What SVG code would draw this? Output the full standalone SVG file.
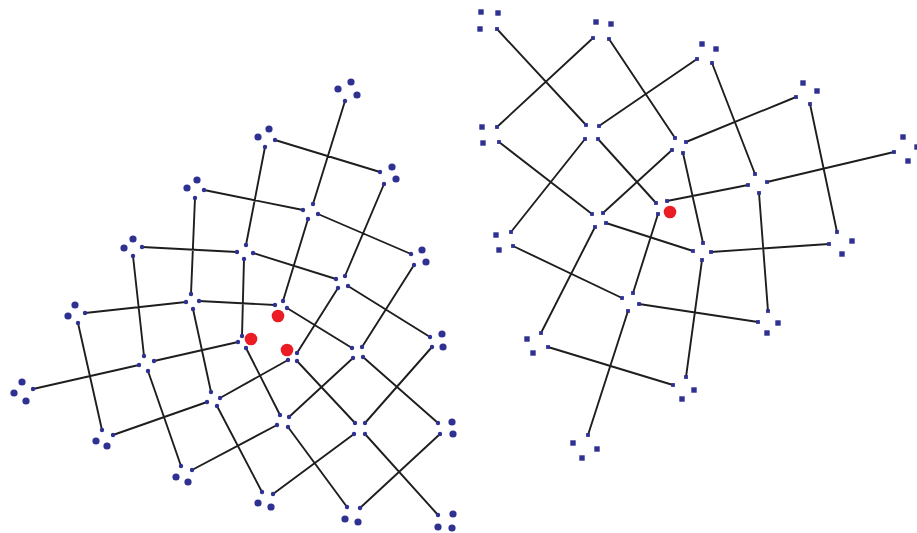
<svg xmlns="http://www.w3.org/2000/svg" width="917" height="533" viewBox="0 0 917 533">
<style>
.e{stroke:#1e1e1e;stroke-width:1.9;fill:none;stroke-linecap:round}
.s{fill:#2e3192}
.b{fill:#2e3192}
.r{fill:#ec1c24}
</style>
<defs>
<circle id="cs" r="2.2" class="s"/>
<circle id="cb" r="3.6" class="b"/>
<circle id="cr" r="6.3" class="r"/>
<rect id="qs" x="-1.9" y="-1.9" width="3.8" height="3.8" class="s"/>
<rect id="qb" x="-2.7" y="-2.7" width="5.4" height="5.4" class="b"/>
</defs>
<rect width="917" height="533" fill="#fff"/>
<g id="connectors">
<path class="e" d="M345,101L313,204M275,140L380,172M265,147L246,245M384,184L345,276M204,190L303,210M195,198L191,294M318,214L411,254M308,219L283,301M414,265L362,347M142,247L237,252M133,256L144,356M253,253L336,279M244,259L242,336M348,286L430,337M338,288L297,353M432,347L365,423M85,313L186,302M78,323L102,430M199,301L275,305M193,309L211,392M287,308L352,348M353,358L289,417M363,357L438,423M33,389L139,365M154,361L238,342M148,371L181,466M246,348L280,415M288,360L220,398M297,361L355,423M207,402L113,435M217,406L262,492M277,425L192,470M288,427L347,507M354,434L273,494M365,434L438,515M440,434L360,508"/>
<path class="e" d="M497,29L586,125M593,38L497,127M609,39L675,138M599,126L697,59M585,139L511,232M598,139L656,203M499,142L592,214M672,150L603,213M686,142L796,97M683,153L703,243M712,63L755,174M810,104L837,232M894,152L767,182M748,185L667,201M759,193L768,311M658,214L633,293M595,227L541,333M606,223L693,251M711,252L829,244M702,260L686,377M639,304L758,322M628,311L588,435M513,246L622,298M548,347L673,385"/>
</g>
<g id="left-graph">
<g id="L1"><use href="#cb" x="338" y="89"/><use href="#cb" x="351" y="82"/><use href="#cb" x="357" y="95"/><use href="#cs" x="345" y="101"/></g>
<g id="L2"><use href="#cb" x="258" y="137"/><use href="#cb" x="269" y="129"/><use href="#cs" x="275" y="140"/><use href="#cs" x="265" y="147"/></g>
<g id="L3"><use href="#cb" x="392" y="167"/><use href="#cb" x="396" y="179"/><use href="#cs" x="380" y="172"/><use href="#cs" x="384" y="184"/></g>
<g id="L4"><use href="#cb" x="197" y="180"/><use href="#cb" x="187" y="188"/><use href="#cs" x="204" y="190"/><use href="#cs" x="195" y="198"/></g>
<g id="L5"><use href="#cs" x="313" y="204"/><use href="#cs" x="303" y="210"/><use href="#cs" x="318" y="214"/><use href="#cs" x="308" y="219"/></g>
<g id="L6"><use href="#cb" x="422" y="250"/><use href="#cb" x="426" y="262"/><use href="#cs" x="411" y="254"/><use href="#cs" x="414" y="265"/></g>
<g id="L7"><use href="#cb" x="133" y="239"/><use href="#cb" x="124" y="248"/><use href="#cs" x="142" y="247"/><use href="#cs" x="133" y="256"/></g>
<g id="L8"><use href="#cs" x="246" y="245"/><use href="#cs" x="237" y="252"/><use href="#cs" x="253" y="253"/><use href="#cs" x="244" y="259"/></g>
<g id="L9"><use href="#cs" x="345" y="276"/><use href="#cs" x="336" y="279"/><use href="#cs" x="348" y="286"/><use href="#cs" x="338" y="288"/></g>
<g id="L10"><use href="#cb" x="442" y="334"/><use href="#cb" x="443" y="347"/><use href="#cs" x="430" y="337"/><use href="#cs" x="432" y="347"/></g>
<g id="L11"><use href="#cb" x="75" y="305"/><use href="#cb" x="68" y="316"/><use href="#cs" x="85" y="313"/><use href="#cs" x="78" y="323"/></g>
<g id="L12"><use href="#cs" x="191" y="294"/><use href="#cs" x="186" y="302"/><use href="#cs" x="199" y="301"/><use href="#cs" x="193" y="309"/></g>
<g id="L13"><use href="#cs" x="283" y="301"/><use href="#cs" x="275" y="305"/><use href="#cs" x="287" y="308"/><use href="#cr" x="278" y="316"/></g>
<g id="L14"><use href="#cs" x="352" y="348"/><use href="#cs" x="362" y="347"/><use href="#cs" x="353" y="358"/><use href="#cs" x="363" y="357"/></g>
<g id="L15"><use href="#cb" x="22" y="382"/><use href="#cb" x="14" y="393"/><use href="#cb" x="26" y="401"/><use href="#cs" x="33" y="389"/></g>
<g id="L16"><use href="#cs" x="139" y="365"/><use href="#cs" x="144" y="356"/><use href="#cs" x="154" y="361"/><use href="#cs" x="148" y="371"/></g>
<g id="L17"><use href="#cs" x="242" y="336"/><use href="#cs" x="238" y="342"/><use href="#cs" x="246" y="348"/><use href="#cr" x="251" y="339"/></g>
<g id="L18"><use href="#cr" x="287" y="350"/><use href="#cs" x="297" y="353"/><use href="#cs" x="288" y="360"/><use href="#cs" x="297" y="361"/></g>
<g id="L19"><use href="#cs" x="211" y="392"/><use href="#cs" x="207" y="402"/><use href="#cs" x="220" y="398"/><use href="#cs" x="217" y="406"/></g>
<g id="L20"><use href="#cs" x="280" y="415"/><use href="#cs" x="277" y="425"/><use href="#cs" x="289" y="417"/><use href="#cs" x="288" y="427"/></g>
<g id="L21"><use href="#cs" x="355" y="423"/><use href="#cs" x="365" y="423"/><use href="#cs" x="354" y="434"/><use href="#cs" x="365" y="434"/></g>
<g id="L22"><use href="#cs" x="438" y="423"/><use href="#cs" x="440" y="434"/><use href="#cb" x="452" y="422"/><use href="#cb" x="453" y="434"/></g>
<g id="L23"><use href="#cs" x="102" y="430"/><use href="#cs" x="113" y="435"/><use href="#cb" x="96" y="441"/><use href="#cb" x="107" y="446"/></g>
<g id="L24"><use href="#cs" x="181" y="466"/><use href="#cs" x="192" y="470"/><use href="#cb" x="176" y="477"/><use href="#cb" x="188" y="482"/></g>
<g id="L25"><use href="#cs" x="262" y="492"/><use href="#cs" x="273" y="494"/><use href="#cb" x="258" y="503"/><use href="#cb" x="271" y="507"/></g>
<g id="L26"><use href="#cs" x="347" y="507"/><use href="#cs" x="360" y="508"/><use href="#cb" x="345" y="519"/><use href="#cb" x="358" y="522"/></g>
<g id="L27"><use href="#cs" x="438" y="515"/><use href="#cb" x="453" y="514"/><use href="#cb" x="438" y="527"/><use href="#cb" x="452" y="528"/></g>
</g>
<g id="right-graph">
<g id="R1"><use href="#qb" x="481" y="12"/><use href="#qb" x="498" y="13"/><use href="#qb" x="480" y="29"/><use href="#qs" x="497" y="29"/></g>
<g id="R2"><use href="#qb" x="596" y="22"/><use href="#qb" x="611" y="24"/><use href="#qs" x="593" y="38"/><use href="#qs" x="609" y="39"/></g>
<g id="R3"><use href="#qs" x="586" y="125"/><use href="#qs" x="599" y="126"/><use href="#qs" x="585" y="139"/><use href="#qs" x="598" y="139"/></g>
<g id="R4"><use href="#qb" x="482" y="127"/><use href="#qb" x="483" y="143"/><use href="#qs" x="497" y="127"/><use href="#qs" x="499" y="142"/></g>
<g id="R5"><use href="#qs" x="675" y="138"/><use href="#qs" x="686" y="142"/><use href="#qs" x="672" y="150"/><use href="#qs" x="683" y="153"/></g>
<g id="R6"><use href="#qb" x="702" y="44"/><use href="#qb" x="716" y="49"/><use href="#qs" x="697" y="59"/><use href="#qs" x="712" y="63"/></g>
<g id="R7"><use href="#qb" x="803" y="83"/><use href="#qb" x="817" y="91"/><use href="#qs" x="796" y="97"/><use href="#qs" x="810" y="104"/></g>
<g id="R8"><use href="#qb" x="903" y="137"/><use href="#qb" x="917" y="147"/><use href="#qb" x="908" y="161"/><use href="#qs" x="894" y="152"/></g>
<g id="R9"><use href="#qs" x="755" y="174"/><use href="#qs" x="748" y="185"/><use href="#qs" x="767" y="182"/><use href="#qs" x="759" y="193"/></g>
<g id="R10"><use href="#qs" x="656" y="203"/><use href="#qs" x="667" y="201"/><use href="#qs" x="658" y="214"/><use href="#cr" x="670" y="212"/></g>
<g id="R11"><use href="#qs" x="592" y="214"/><use href="#qs" x="603" y="213"/><use href="#qs" x="595" y="227"/><use href="#qs" x="606" y="223"/></g>
<g id="R12"><use href="#qs" x="837" y="232"/><use href="#qs" x="829" y="244"/><use href="#qb" x="852" y="241"/><use href="#qb" x="842" y="254"/></g>
<g id="R13"><use href="#qs" x="703" y="243"/><use href="#qs" x="693" y="251"/><use href="#qs" x="711" y="252"/><use href="#qs" x="702" y="260"/></g>
<g id="R14"><use href="#qs" x="768" y="311"/><use href="#qs" x="758" y="322"/><use href="#qb" x="778" y="323"/><use href="#qb" x="767" y="333"/></g>
<g id="R15"><use href="#qs" x="633" y="293"/><use href="#qs" x="622" y="298"/><use href="#qs" x="639" y="304"/><use href="#qs" x="628" y="311"/></g>
<g id="R16"><use href="#qs" x="673" y="385"/><use href="#qs" x="686" y="377"/><use href="#qb" x="694" y="390"/><use href="#qb" x="682" y="399"/></g>
<g id="R17"><use href="#qb" x="496" y="235"/><use href="#qb" x="499" y="250"/><use href="#qs" x="511" y="232"/><use href="#qs" x="513" y="246"/></g>
<g id="R18"><use href="#qs" x="541" y="333"/><use href="#qs" x="548" y="347"/><use href="#qb" x="527" y="339"/><use href="#qb" x="533" y="353"/></g>
<g id="R19"><use href="#qs" x="588" y="435"/><use href="#qb" x="573" y="443"/><use href="#qb" x="597" y="449"/><use href="#qb" x="582" y="458"/></g>
</g>
</svg>
